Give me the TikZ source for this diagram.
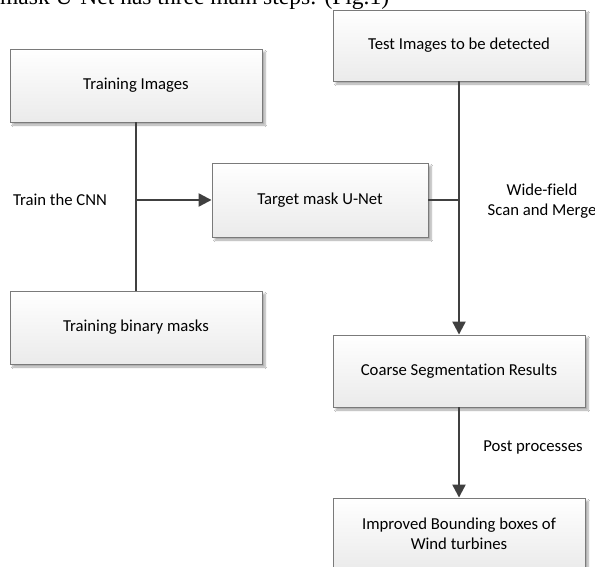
\documentclass[tikz,border=0pt]{standalone}
\usepackage{fontspec}
\setmainfont{Carlito}[Ligatures=NoCommon]
\newfontfamily\captionserif{Liberation Serif}
\usetikzlibrary{arrows.meta,shadows.blur}
\definecolor{linegray}{HTML}{404040}
\definecolor{boxborder}{HTML}{7A7A7A}
\tikzset{
  procbox/.style={draw=boxborder, line width=0.9pt, top color=white, bottom color=black!8,
    minimum width=252pt, minimum height=72pt, inner sep=2pt, align=center,
    font=\fontsize{16.7}{20.4}\selectfont,
    blur shadow={shadow xshift=3pt, shadow yshift=-3pt, shadow blur steps=6, shadow blur extra rounding=0pt, shadow opacity=35}},
  conn/.style={draw=linegray, line width=2.2pt},
  arr/.style={conn, -{Triangle[length=13pt,width=13pt]}},
  lbl/.style={font=\fontsize{16.7}{20.4}\selectfont, align=center, inner sep=0pt}
}
\begin{document}
\begin{tikzpicture}[x=1pt,y=-1pt]
\useasboundingbox (0,0) rectangle (595,567);
\clip (0,0) rectangle (595,567);
\fill[white] (0,0) rectangle (595,567);
\node[anchor=base west, inner sep=0pt, font=\captionserif\fontsize{23.5}{26}\selectfont] (cap) at (0,4.5) {mask U-Net has three main steps: (Fig.1)};
\node[procbox, minimum height=73pt] (ti) at (136,85.5) {Training Images};
\node[procbox, minimum height=73pt] (tb) at (136,327.5) {Training binary masks};
\node[procbox, minimum width=216pt, minimum height=74pt] (un) at (320,200) {Target mask U-Net};
\node[procbox, minimum height=71pt] (te) at (459,45.5) {Test Images to be detected};
\node[procbox] (cs) at (459,371) {Coarse Segmentation Results};
\node[procbox] (ib) at (459,534) {Improved Bounding boxes of\\Wind turbines};
\coordinate (lj) at (ti.south |- un.west);
\coordinate (rj) at (te.south |- un.east);
\draw[conn] (ti.south) -- (tb.north);
\draw[arr] (lj) -- (un.west);
\draw[conn] (un.east) -- (rj);
\draw[arr] (te.south) -- (cs.north);
\draw[arr] (cs.south) -- (ib.north);
\node[lbl] (l1) at (60,200) {Train the CNN};
\node[lbl] (l2) at (542,201) {Wide-field\\Scan and Merge};
\node[lbl] (l3) at (533,447) {Post processes};
\end{tikzpicture}
\end{document}
